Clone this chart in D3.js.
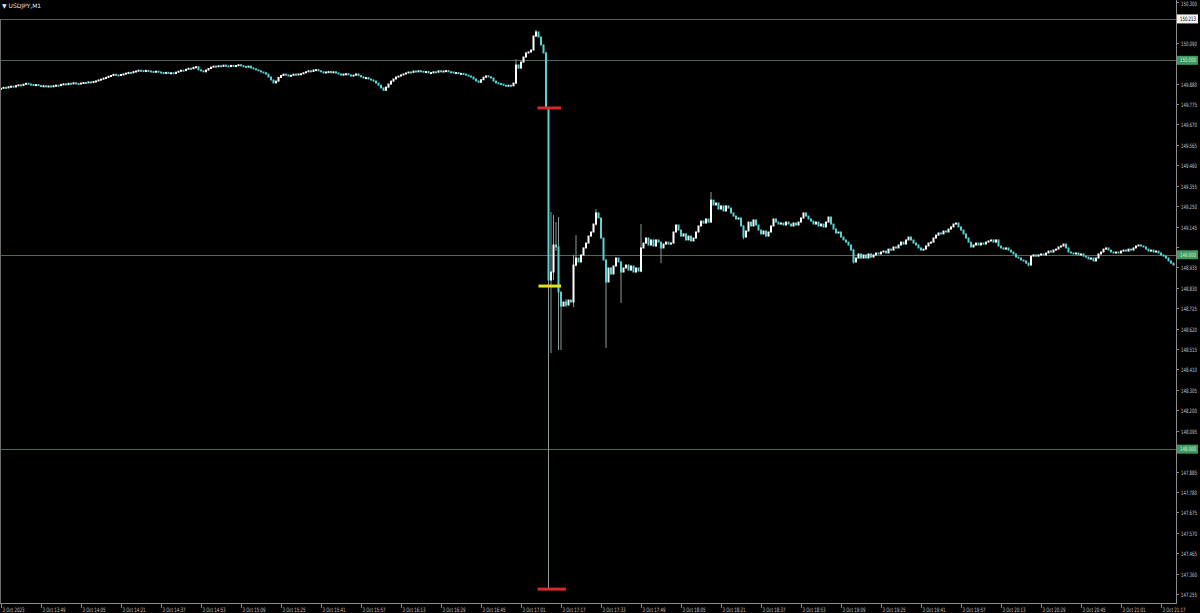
<!DOCTYPE html>
<html>
<head>
<meta charset="utf-8">
<script src="https://cdn.jsdelivr.net/npm/d3@7.9.0/dist/d3.min.js"></script>
<style>
  html, body { margin: 0; background: #000; }
  svg { display: block; font-family: "DejaVu Sans", sans-serif; }
</style>
</head>
<body>
<svg id="chart" width="1200" height="613"></svg>
<script>
// M1 closes, one array per hour block (bar 0 = 3 Oct 13:33)
const firstOpen = 149.853;
const closes1333 = [149.856,149.861,149.858,149.864,149.867,149.863,149.870,149.874,149.871,149.877,
  149.882,149.878,149.876,149.872,149.875,149.870,149.867,149.869,149.866,149.868,
  149.865,149.869,149.872,149.870,149.876,149.879,149.875,149.882,149.880,149.884,
  149.881,149.878,149.883,149.886,149.884,149.889,149.887,149.891,149.894,149.899,
  149.903,149.908,149.912,149.918,149.922,149.928,149.925,149.922,149.927,149.930,
  149.934,149.938,149.936,149.942,149.945,149.949,149.947,149.944,149.948,149.945];
const closes1433 = [149.943,149.939,149.944,149.940,149.937,149.933,149.938,149.934,149.936,149.932,
  149.939,149.944,149.949,149.947,149.954,149.959,149.957,149.964,149.967,149.951,
  149.946,149.941,149.950,149.958,149.965,149.970,149.968,149.972,149.969,149.975,
  149.971,149.968,149.974,149.970,149.973,149.977,149.972,149.969,149.965,149.970,
  149.961,149.956,149.951,149.946,149.940,149.936,149.929,149.914,149.899,149.884,
  149.893,149.912,149.922,149.929,149.925,149.919,149.923,149.929,149.925,149.930];
const closes1533 = [149.931,149.936,149.941,149.946,149.943,149.950,149.952,149.946,149.941,149.935,
  149.940,149.942,149.936,149.941,149.935,149.930,149.924,149.929,149.931,149.925,
  149.919,149.924,149.930,149.921,149.915,149.909,149.911,149.904,149.899,149.893,
  149.883,149.872,149.858,149.846,149.862,149.878,149.893,149.904,149.914,149.919,
  149.925,149.930,149.935,149.940,149.938,149.945,149.941,149.946,149.944,149.940,
  149.942,149.935,149.937,149.941,149.939,149.946,149.941,149.945,149.947,149.941];
const closes1633 = [149.940,149.935,149.937,149.931,149.933,149.929,149.924,149.919,149.914,149.904,
  149.894,149.887,149.900,149.913,149.920,149.915,149.909,149.893,149.884,149.881,
  149.877,149.872,149.867,149.872,149.869,149.883,149.976,149.960,149.991,150.017,
  150.038,150.043,150.053,150.125,150.146,150.120,150.079,150.038,149.755,148.870,
  148.911,149.050,149.040,148.808,148.736,148.757,148.741,148.767,148.757,148.947,
  148.983,148.963,148.999,149.035,149.060,149.096,149.117,149.158,149.215,149.189];
const closes1733 = [149.086,148.973,148.860,148.932,148.901,148.942,148.983,148.963,148.911,148.932,
  148.947,148.921,148.942,148.911,148.932,148.916,149.035,149.060,149.086,149.050,
  149.076,149.045,149.076,149.065,149.035,149.055,149.065,149.055,149.060,149.117,
  149.153,149.127,149.096,149.107,149.076,149.096,149.071,149.086,149.117,149.148,
  149.173,149.163,149.184,149.168,149.281,149.256,149.266,149.235,149.251,149.225,
  149.251,149.240,149.215,149.199,149.184,149.189,149.148,149.091,149.122,149.168];
const closes1833 = [149.148,149.179,149.153,149.127,149.107,149.122,149.096,149.117,149.148,149.184,
  149.168,149.158,149.163,149.153,149.168,149.158,149.148,149.163,149.153,149.168,
  149.189,149.215,149.199,149.184,149.173,149.158,149.168,149.148,149.158,149.143,
  149.168,149.194,149.158,149.132,149.112,149.117,149.091,149.076,149.065,149.050,
  149.024,148.963,148.983,149.004,148.983,148.999,148.983,149.004,148.988,148.999,
  149.009,149.004,149.014,149.019,149.009,149.029,149.024,149.040,149.035,149.050];
const closes1933 = [149.065,149.055,149.076,149.091,149.076,149.060,149.050,149.035,149.024,149.029,
  149.045,149.060,149.065,149.086,149.101,149.112,149.107,149.122,149.117,149.132,
  149.143,149.158,149.163,149.143,149.127,149.107,149.086,149.065,149.040,149.050,
  149.060,149.050,149.060,149.055,149.065,149.071,149.076,149.065,149.076,149.045,
  149.035,149.029,149.035,149.024,149.014,149.004,148.988,148.983,148.973,148.968,
  148.957,148.947,148.993,148.999,148.993,148.999,149.004,148.999,149.009,149.019];
const closes2033 = [149.014,149.024,149.029,149.040,149.045,149.055,149.035,149.014,149.009,149.004,
  149.009,148.999,149.004,148.993,148.988,148.978,148.983,148.968,148.983,149.004,
  149.014,149.029,149.035,149.024,149.014,149.009,149.014,149.009,149.019,149.024,
  149.019,149.029,149.024,149.035,149.045,149.050,149.045,149.040,149.029,149.019,
  149.024,149.014,149.019,149.009,148.999,148.993,148.983,148.968,148.957,148.947];

// bars whose shadows stick out of the body
const wickIdx  = [206, 214, 218, 219, 220, 221, 222, 223, 224, 226, 229, 230, 238, 242, 248, 256, 264, 284, 297, 341, 411];
const wickHigh = [150.006,150.156,150.043,149.760,149.220,149.204,149.168,149.194,148.808,148.772,149.000,149.100,149.235,148.975,148.965,149.158,149.065,149.323,149.150,149.030,148.960];
const wickLow  = [149.878,150.120,149.755,147.280,148.494,148.870,149.020,148.510,148.510,148.730,148.730,148.940,149.150,148.520,148.752,148.910,148.957,149.165,149.080,148.955,148.940];

const priceTicks = [150.300,150.195,150.090,149.985,149.880,149.775,149.670,149.565,149.460,149.355,
  149.250,149.145,149.040,148.935,148.830,148.725,148.620,148.515,148.410,148.305,
  148.200,148.095,147.990,147.885,147.780,147.675,147.570,147.465,147.360,147.255];
const timeLabels = ["3 Oct 2023","3 Oct 13:49","3 Oct 14:05","3 Oct 14:21","3 Oct 14:37","3 Oct 14:53",
  "3 Oct 15:09","3 Oct 15:25","3 Oct 15:41","3 Oct 15:57","3 Oct 16:13","3 Oct 16:29","3 Oct 16:45",
  "3 Oct 17:01","3 Oct 17:17","3 Oct 17:33","3 Oct 17:49","3 Oct 18:05","3 Oct 18:21","3 Oct 18:37",
  "3 Oct 18:53","3 Oct 19:09","3 Oct 19:25","3 Oct 19:41","3 Oct 19:57","3 Oct 20:13","3 Oct 20:29",
  "3 Oct 20:45","3 Oct 21:01","3 Oct 21:17"];
const labelEvery = 16;

const greenLevels = [150.000, 149.000, 148.000];
const greyLevel = 150.213;
const markerPrices = [149.755, 148.839, 147.280];
const markerColors = ["#d42a2a", "#e6e21a", "#d42a2a"];
const markerFrom = [214.6, 215, 214.6];
const markerTo = [224, 224, 226];

const W = 1200, H = 613;
const plotRight = 1176, plotBottom = 603;

const closes = [].concat(closes1333, closes1433, closes1533, closes1633, closes1733, closes1833, closes1933, closes2033);
const bars = closes.map((c, i) => {
  const o = i === 0 ? firstOpen : closes[i - 1];
  let h = Math.max(o, c), l = Math.min(o, c);
  const w = wickIdx.indexOf(i);
  if (w >= 0) { h = Math.max(h, wickHigh[w]); l = Math.min(l, wickLow[w]); }
  return { i, o, h, l, c };
});

const x = d3.scaleLinear().domain([0, 470]).range([1, plotRight]);
const y = d3.scaleLinear().domain([147.2087, 150.3103]).range([plotBottom, 0]);

const svg = d3.select('#chart');
svg.append('rect').attr('width', W).attr('height', H).attr('fill', '#000');

// horizontal levels
svg.append('line').attr('x1', 0).attr('x2', plotRight)
  .attr('y1', Math.round(y(greyLevel)) + 0.5).attr('y2', Math.round(y(greyLevel)) + 0.5)
  .attr('stroke', '#5e5e5e');
svg.selectAll('line.level').data(greenLevels).join('line').attr('class', 'level')
  .attr('x1', 0).attr('x2', plotRight)
  .attr('y1', d => Math.round(y(d)) + 0.5).attr('y2', d => Math.round(y(d)) + 0.5)
  .attr('stroke', '#4a6a58');

// candles
const g = svg.append('g');
g.selectAll('line.wick').data(bars).join('line').attr('class', 'wick')
  .attr('x1', d => x(d.i)).attr('x2', d => x(d.i))
  .attr('y1', d => y(d.h)).attr('y2', d => y(d.l))
  .attr('stroke', '#8a9a9a').attr('stroke-width', 1);
g.selectAll('rect.body').data(bars).join('rect').attr('class', 'body')
  .attr('x', d => x(d.i) - 1).attr('width', 2)
  .attr('y', d => y(Math.max(d.o, d.c)) - 0.5)
  .attr('height', d => Math.max(2, Math.abs(y(d.o) - y(d.c)) + 1))
  .attr('fill', d => d.c >= d.o ? '#ffffff' : '#55d4d6');

// markers around the drop
markerPrices.forEach((p, k) => {
  svg.append('line')
    .attr('x1', x(markerFrom[k])).attr('x2', x(markerTo[k]))
    .attr('y1', y(p)).attr('y2', y(p))
    .attr('stroke', markerColors[k]).attr('stroke-width', 3);
});

// frame
svg.append('line').attr('x1', plotRight + 0.5).attr('x2', plotRight + 0.5).attr('y1', 0).attr('y2', plotBottom + 1)
  .attr('stroke', '#8a8a8a');
svg.append('line').attr('x1', 0).attr('x2', plotRight + 1).attr('y1', plotBottom + 0.5).attr('y2', plotBottom + 0.5)
  .attr('stroke', '#8a8a8a');
svg.append('line').attr('x1', 0.5).attr('x2', 0.5).attr('y1', Math.round(y(greyLevel))).attr('y2', plotBottom)
  .attr('stroke', '#6a6a6a');

// price axis; tick labels hidden under a price tag are skipped
const labelEnd = 1197;
const tagged = greenLevels.concat([greyLevel]);
const pa = svg.append('g').attr('text-anchor', 'end');
priceTicks.forEach(p => {
  const yy = Math.round(y(p)) + 0.5;
  pa.append('line').attr('x1', plotRight).attr('x2', plotRight + 3).attr('y1', yy).attr('y2', yy).attr('stroke', '#8a8a8a');
  if (tagged.some(t => Math.abs(y(t) - y(p)) < 9)) return;
  pa.append('text').attr('x', labelEnd).attr('y', Math.max(yy + 2, 6))
    .attr('font-size', 6).attr('fill', '#c8c8c8')
    .attr('textLength', 16).attr('lengthAdjust', 'spacingAndGlyphs').text(p.toFixed(3));
});
function priceTag(p, fill, color) {
  const yy = y(p);
  pa.append('rect').attr('x', plotRight + 1).attr('y', yy - 4.5).attr('width', 21).attr('height', 9).attr('fill', fill);
  pa.append('text').attr('x', labelEnd - 1).attr('y', yy + 2)
    .attr('font-size', 6).attr('fill', color)
    .attr('textLength', 16).attr('lengthAdjust', 'spacingAndGlyphs').text(p.toFixed(3));
}
priceTag(greyLevel, '#f4f4f4', '#000');
greenLevels.forEach(p => priceTag(p, '#3c9a5e', '#d8f0d8'));

// time axis
const ta = svg.append('g');
timeLabels.forEach((t, k) => {
  const xx = Math.round(x(k * labelEvery)) + 0.5;
  ta.append('line').attr('x1', xx).attr('x2', xx).attr('y1', plotBottom).attr('y2', plotBottom + 5).attr('stroke', '#8a8a8a');
  ta.append('text').attr('x', xx + 1).attr('y', plotBottom + 8.5)
    .attr('font-size', 6).attr('fill', '#c8c8c8')
    .attr('textLength', t.length > 10 ? 23 : 22).attr('lengthAdjust', 'spacingAndGlyphs').text(t);
});

// symbol caption
svg.append('text').attr('x', 2).attr('y', 7.5).attr('font-size', 6).attr('fill', '#e0e0e0').text('▼ USDJPY,M1');
</script>
</body>
</html>
